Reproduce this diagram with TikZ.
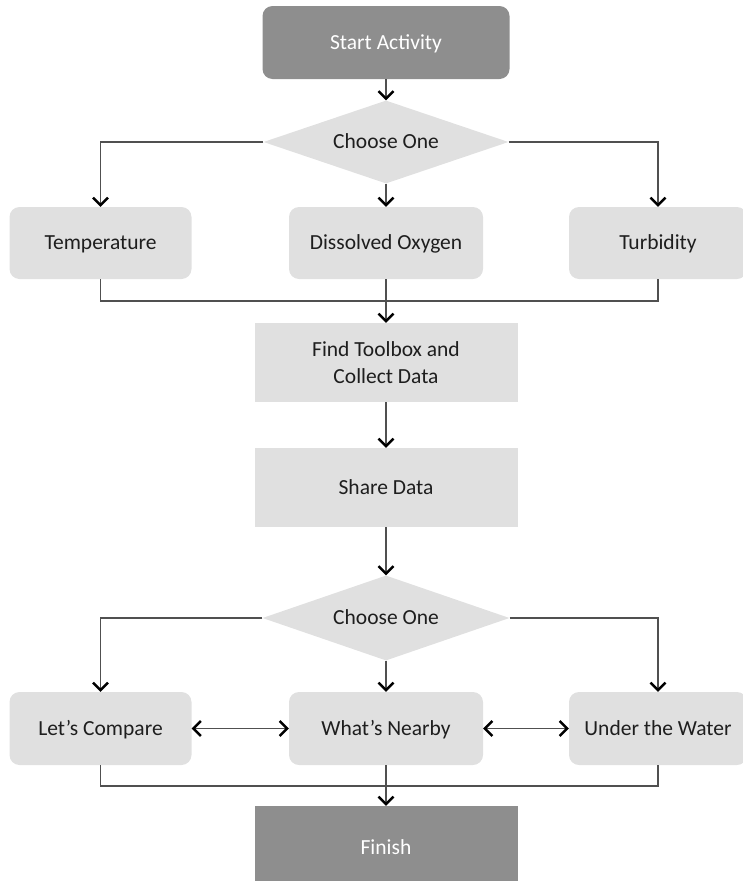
\documentclass[tikz,border=0pt]{standalone}
\usepackage{fontspec}
\setmainfont{Carlito}
\usetikzlibrary{shapes.geometric,arrows.meta}
\definecolor{lightbox}{HTML}{E0E0E0}
\definecolor{darkbox}{HTML}{8E8E8E}
\definecolor{linecol}{HTML}{505050}
\definecolor{txt}{HTML}{1E1E1E}
\tikzset{
  base/.style={inner sep=0pt, align=center, text=txt, font=\fontsize{21.5}{27}\selectfont},
  one/.style={text height=14pt, text depth=1pt},
  roundbox/.style={base, one, fill=lightbox, rounded corners=10pt},
  sqbox/.style={base, fill=lightbox},
  darkround/.style={base, one, fill=darkbox, rounded corners=10pt, text=white},
  darksq/.style={base, one, fill=darkbox, text=white},
  choice/.style={base, one, diamond, aspect=3, fill=lightbox},
  conn/.style={draw=linecol, line width=1.3pt},
  tip/.tip={Straight Barb[length=7.5pt,width=15pt,line width=2.4pt,color=black]},
  arr/.style={conn, -tip},
  darr/.style={conn, tip-tip},
}
\begin{document}
\begin{tikzpicture}[x=1pt,y=-1pt]
\useasboundingbox (0,0) rectangle (742,881);
\node[darkround, minimum width=247pt, minimum height=73pt] (start) at (386,42.5) {Start Activity};
\node[choice, minimum width=245pt, minimum height=83pt] (d1) at (386,142) {Choose One};
\node[roundbox, minimum width=182pt, minimum height=72pt] (temp) at (100.5,243) {Temperature};
\node[roundbox, minimum width=194pt, minimum height=72pt] (dox) at (386,243) {Dissolved Oxygen};
\node[roundbox, minimum width=178pt, minimum height=72pt] (turb) at (658,243) {Turbidity};
\coordinate (m1) at (386,301);
\node[sqbox, minimum width=263pt, minimum height=79pt] (find) at (386,362.5) {Find Toolbox and\\Collect Data};
\node[sqbox, one, minimum width=263pt, minimum height=79pt] (share) at (386,487.5) {Share Data};
\node[choice, minimum width=247pt, minimum height=85pt] (d2) at (386,618) {Choose One};
\node[roundbox, minimum width=182pt, minimum height=73pt] (cmp) at (100.5,728.5) {Let’s Compare};
\node[roundbox, minimum width=194pt, minimum height=73pt] (near) at (386,728.5) {What’s Nearby};
\node[roundbox, minimum width=178pt, minimum height=73pt] (water) at (658,728.5) {Under the Water};
\coordinate (m2) at (386,786);
\node[darksq, minimum width=263pt, minimum height=84pt] (finish) at (386,848) {Finish};

\draw[arr] (start.south) -- (d1.north);
\draw[arr] (d1.west) -| (temp.north);
\draw[arr] (d1.south) -- (dox.north);
\draw[arr] (d1.east) -| (turb.north);
\draw[conn] (temp.south) |- (m1) -| (turb.south);
\draw[arr] (dox.south) -- (find.north);
\draw[arr] (find.south) -- (share.north);
\draw[arr] (share.south) -- (d2.north);
\draw[arr] (d2.west) -| (cmp.north);
\draw[arr] (d2.south) -- (near.north);
\draw[arr] (d2.east) -| (water.north);
\draw[darr] (cmp.east) -- (near.west);
\draw[darr] (near.east) -- (water.west);
\draw[conn] (cmp.south) |- (m2) -| (water.south);
\draw[arr] (near.south) -- (finish.north);
\end{tikzpicture}
\end{document}
